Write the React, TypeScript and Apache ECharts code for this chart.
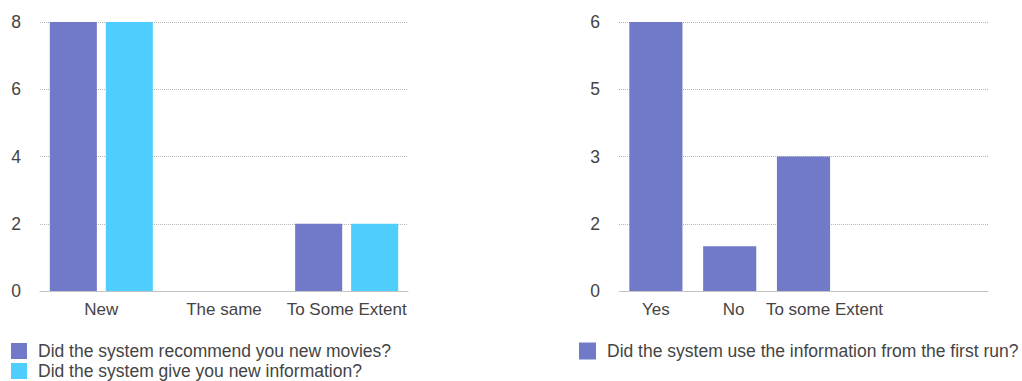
import React, { useEffect, useRef } from "react";
import * as echarts from "echarts";

const leftCategories = ["New", "The same", "To Some Extent"];
const leftSeriesNames = [
  "Did the system recommend you new movies?",
  "Did the system give you new information?",
];
const recommendValues = [8, 0, 2];
const newInfoValues = [8, 0, 2];
const leftTickLabels = ["0", "2", "4", "6", "8"];

const rightCategories = ["Yes", "No", "To some Extent", "", ""];
const rightSeriesName = "Did the system use the information from the first run?";
const usedInfoValues = [6, 1, 3, null, null];
const rightTickLabels = ["0", "2", "3", "5", "6"];

const PURPLE = "#717AC9";
const CYAN = "#4FCDFD";
const FONT = "Liberation Sans, Arial, sans-serif";
const TEXT = "#444444";

export default function App() {
  const ref = useRef<HTMLDivElement>(null);
  useEffect(() => {
    if (!ref.current) return;
    const chart = echarts.init(ref.current, null, { renderer: "svg" });
    const yCommon = {
      type: "value",
      axisLine: { show: false },
      axisTick: { show: false },
      splitLine: { lineStyle: { type: "dotted", color: "#b5b5b5", width: 1 } },
    };
    const xCommon = {
      type: "category",
      axisTick: { show: false },
      axisLine: { lineStyle: { color: "#c4c4c4", width: 1 } },
      axisLabel: { fontSize: 17, color: TEXT, fontFamily: FONT, margin: 10, interval: 0, hideOverlap: false },
    };
    const legendText = {
      fontSize: 17.5,
      color: TEXT,
      fontFamily: FONT,
      lineHeight: 20,
      padding: [0, 0, 0, 6],
    };
    chart.setOption({
      animation: false,
      textStyle: { fontFamily: FONT },
      grid: [
        { left: 40, top: 22, width: 368, height: 269 },
        { left: 619, top: 22, width: 369, height: 269 },
      ],
      xAxis: [
        { ...xCommon, gridIndex: 0, data: leftCategories },
        {
          ...xCommon,
          gridIndex: 1,
          data: rightCategories.map((c, i) =>
            i === 1
              ? { value: c, textStyle: { padding: [0, 0, 0, 8] } }
              : i === 2
              ? { value: c, textStyle: { padding: [0, 0, 0, 42] } }
              : c
          ),
        },
      ],
      yAxis: [
        {
          ...yCommon,
          gridIndex: 0,
          min: 0,
          max: 8,
          interval: 2,
          axisLabel: {
            fontSize: 17.5,
            color: TEXT,
            fontFamily: FONT,
            margin: 19,
            formatter: (v: number) => leftTickLabels[Math.round(v / 2)] ?? "",
          },
        },
        {
          ...yCommon,
          gridIndex: 1,
          min: 0,
          max: 6,
          interval: 1.5,
          axisLabel: {
            fontSize: 17.5,
            color: TEXT,
            fontFamily: FONT,
            margin: 19,
            formatter: (v: number) => rightTickLabels[Math.round(v / 1.5)] ?? "",
          },
        },
      ],
      legend: [
        {
          data: leftSeriesNames,
          orient: "vertical",
          left: 11,
          top: 341,
          height: 80,
          icon: "rect",
          itemWidth: 16,
          itemHeight: 16,
          itemGap: 0,
          padding: 0,
          textStyle: legendText,
        },
        {
          data: [rightSeriesName],
          orient: "vertical",
          left: 579,
          top: 341,
          height: 80,
          icon: "rect",
          itemWidth: 17,
          itemHeight: 17,
          padding: 0,
          textStyle: legendText,
        },
      ],
      series: [
        {
          name: leftSeriesNames[0],
          type: "bar",
          xAxisIndex: 0,
          yAxisIndex: 0,
          data: recommendValues,
          itemStyle: { color: PURPLE },
          barCategoryGap: "16%",
          barGap: "19%",
        },
        {
          name: leftSeriesNames[1],
          type: "bar",
          xAxisIndex: 0,
          yAxisIndex: 0,
          data: newInfoValues,
          itemStyle: { color: CYAN },
          barCategoryGap: "16%",
          barGap: "19%",
        },
        {
          name: rightSeriesName,
          type: "bar",
          xAxisIndex: 1,
          yAxisIndex: 1,
          data: usedInfoValues,
          itemStyle: { color: PURPLE },
          barCategoryGap: "28%",
        },
      ],
    });
    return () => chart.dispose();
  }, []);
  return (
    <div
      ref={ref}
      style={{ position: "fixed", left: 0, top: 0, width: 1022, height: 381, background: "#fff" }}
    />
  );
}
